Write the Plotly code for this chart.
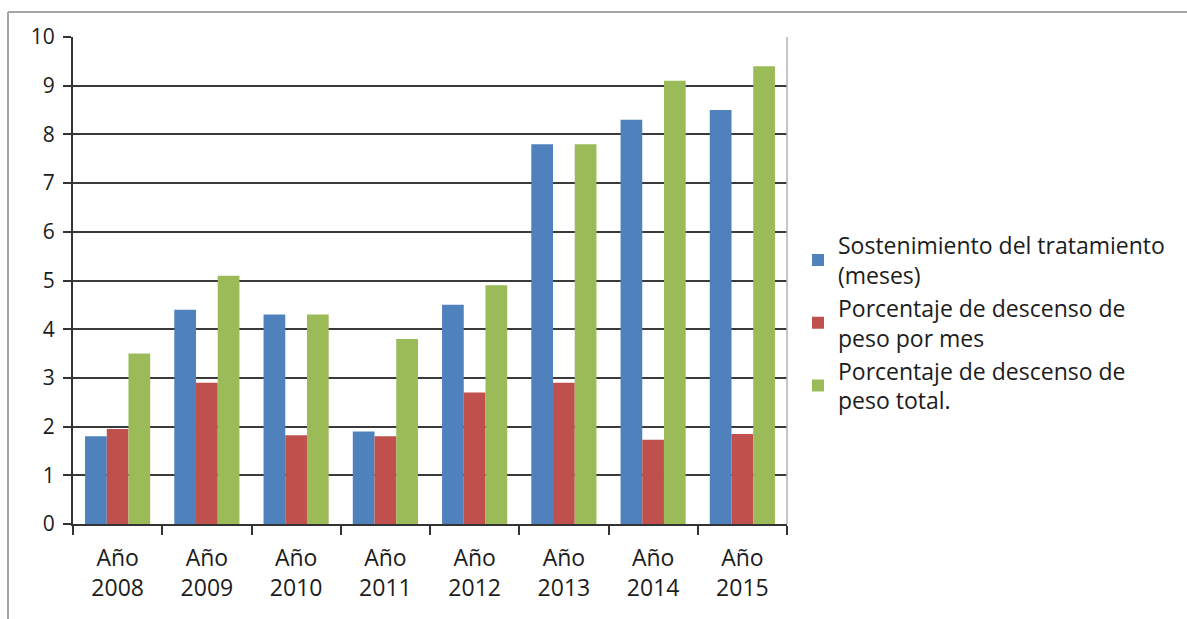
import plotly.graph_objects as go

categories = ["Año<br>2008", "Año<br>2009", "Año<br>2010", "Año<br>2011",
              "Año<br>2012", "Año<br>2013", "Año<br>2014", "Año<br>2015"]
sostenimiento = [1.8, 4.4, 4.3, 1.9, 4.5, 7.8, 8.3, 8.5]
descenso_mes = [1.95, 2.9, 1.82, 1.8, 2.7, 2.9, 1.73, 1.85]
descenso_total = [3.5, 5.1, 4.3, 3.8, 4.9, 7.8, 9.1, 9.4]
series_names = ["Sostenimiento del tratamiento<br>(meses)",
                "Porcentaje de descenso de<br>peso por mes",
                "Porcentaje de descenso de<br>peso total."]
colors = ["#4F81BD", "#C0504D", "#9BBB59"]
y_ticks = [0, 1, 2, 3, 4, 5, 6, 7, 8, 9, 10]

W, H = 1187, 619
L, R, T, B = 73, 400, 37, 95
pw, ph = W - L - R, H - T - B

fig = go.Figure()
for name, vals, c in zip(series_names, [sostenimiento, descenso_mes, descenso_total], colors):
    fig.add_trace(go.Bar(x=categories, y=vals, name=name, marker_color=c,
                         marker_line_width=0))

txt = "#1c1c1c"
xfont = dict(family="Open Sans, sans-serif", size=23, color=txt)
yfont = dict(family="Open Sans, sans-serif", size=21, color=txt)

def px_x(p):
    return (p - L) / pw

def px_y(p):
    return (H - B - p) / ph

fig.update_layout(
    width=W, height=H,
    margin=dict(l=L, r=R, t=T, b=B, pad=0),
    paper_bgcolor="white", plot_bgcolor="white",
    barmode="group", bargap=0.27, bargroupgap=0,
    font=xfont,
    showlegend=True,
    legend=dict(x=px_x(798), y=px_y(323), xanchor="left", yanchor="middle",
                font=dict(family="Open Sans, sans-serif", size=23, color=txt),
                valign="middle", tracegroupgap=4, itemwidth=30,
                bgcolor="rgba(0,0,0,0)"),
    xaxis=dict(showline=True, linecolor="#333333", linewidth=2,
               ticks="outside", tickson="boundaries", ticklen=9, tickcolor="#333333",
               tickwidth=2, showgrid=False, tickfont=xfont, ticklabelstandoff=12,
               fixedrange=True),
    yaxis=dict(range=[0, 10], tickvals=y_ticks, showline=True, linecolor="#333333",
               linewidth=2, ticks="outside", ticklen=8, tickcolor="#333333",
               tickwidth=2, showgrid=True, gridcolor="#3a3a3a", gridwidth=2,
               zeroline=False, tickfont=yfont, ticklabelstandoff=4, fixedrange=True),
    shapes=[
        dict(type="line", xref="paper", yref="paper", x0=px_x(8), x1=px_x(W + 5),
             y0=px_y(12), y1=px_y(12), line=dict(color="#a6a6a6", width=2)),
        dict(type="line", xref="paper", yref="paper", x0=px_x(8), x1=px_x(8),
             y0=px_y(12), y1=px_y(H + 5), line=dict(color="#a6a6a6", width=2)),
        dict(type="line", xref="paper", yref="paper", x0=1, x1=1,
             y0=0, y1=1, line=dict(color="#b5b5b5", width=1.5)),
    ],
)

fig.write_html("out.html")
